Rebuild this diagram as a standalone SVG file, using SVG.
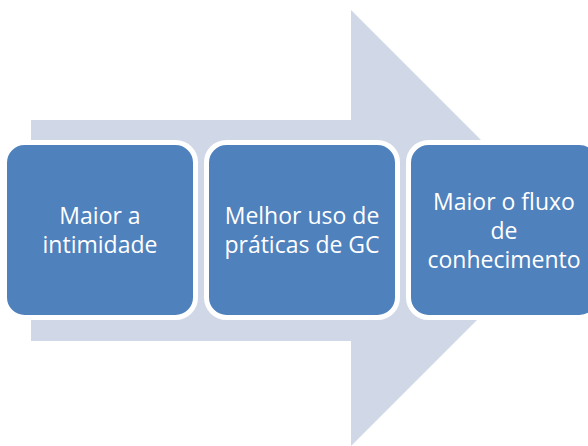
<svg xmlns="http://www.w3.org/2000/svg" width="588" height="446" viewBox="0 0 588 446">
<style>
.box{fill:#4F81BD;stroke:#FFFFFF;stroke-width:5}
.lbl{fill:#FFFFFF;font-family:"Open Sans","Noto Sans","Liberation Sans",sans-serif;font-size:23px;text-anchor:middle}
</style>
<rect width="588" height="446" fill="#FFFFFF"/>
<g id="connectors">
<polygon points="31,120 351,120 351,10 569,228 351,446 351,341 31,341" fill="#D0D8E8"/>
</g>
<g id="node1">
<rect class="box" x="4.5" y="142.5" width="191" height="175" rx="20" ry="20"/>
<text class="lbl" x="100" y="224">Maior a</text>
<text class="lbl" x="100" y="253">intimidade</text>
</g>
<g id="node2">
<rect class="box" x="206.5" y="142.5" width="191" height="175" rx="20" ry="20"/>
<text class="lbl" x="302" y="224">Melhor uso de</text>
<text class="lbl" x="302" y="253">práticas de GC</text>
</g>
<g id="node3">
<rect class="box" x="408.5" y="142.5" width="191" height="175" rx="20" ry="20"/>
<text class="lbl" x="504" y="210">Maior o fluxo</text>
<text class="lbl" x="504" y="239">de</text>
<text class="lbl" x="504" y="268">conhecimento</text>
</g>
</svg>
